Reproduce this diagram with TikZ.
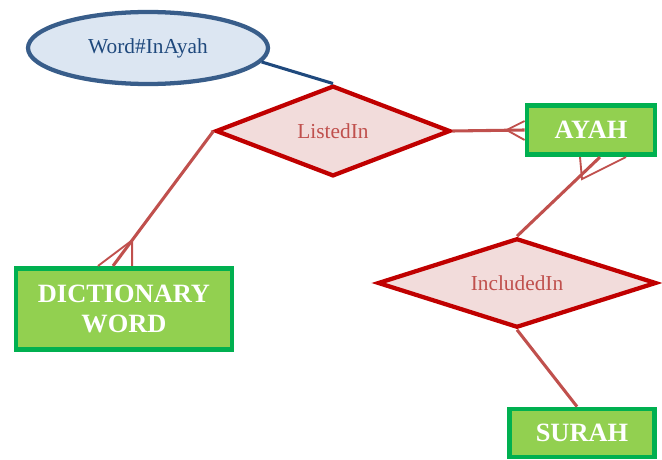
\documentclass[tikz,border=0pt]{standalone}
\usepackage{xcolor}
\usepackage{fontspec}
\setmainfont{Liberation Serif}
\usepackage{tikz}
\usetikzlibrary{positioning,calc,shapes.geometric}
\definecolor{entfill}{HTML}{92D050}
\definecolor{entdraw}{HTML}{00B050}
\definecolor{relfill}{HTML}{F2DCDB}
\definecolor{reldraw}{HTML}{C00000}
\definecolor{reltext}{HTML}{C0504D}
\definecolor{attrfill}{HTML}{DCE6F2}
\definecolor{attrdraw}{HTML}{385D8A}
\definecolor{attrtext}{HTML}{1F497D}

\begin{document}
\begin{tikzpicture}[
  x=0.75pt, y=-0.75pt,
  entity/.style={draw=entdraw, fill=entfill, line width=3.6pt, text=white, align=center, inner sep=0pt,
      font=\fontsize{19.8}{23}\selectfont\bfseries},
  rel/.style={diamond, draw=reldraw, fill=relfill, line width=3.2pt, text=reltext, inner sep=0pt,
      font=\fontsize{16}{19}\selectfont},
  attr/.style={ellipse, draw=attrdraw, fill=attrfill, line width=3.2pt, text=attrtext, inner sep=0pt,
      font=\fontsize{16}{19}\selectfont},
  link/.style={draw=reltext, line width=2.3pt},
  foot/.style={draw=reltext, line width=1.4pt},
]
  \useasboundingbox (0,0) rectangle (662,460);

  % attribute and first relationship
  \node (word)[attr, minimum width=180pt, minimum height=54pt] at (148,48) {Word\#InAyah};
  \node (listed)[rel, aspect=2.6, minimum width=176pt, minimum height=68pt] at (333,131) {ListedIn};
  \draw[draw=attrtext, line width=2.3pt] (word.-7) -- (listed.north);

  % entities
  \node (ayah)[entity, minimum width=96pt, minimum height=37pt] at (591,130) {AYAH};
  \node (dict)[entity, minimum width=162pt, minimum height=61pt] at (124,309) {DICTIONARY\\WORD};
  \node (surah)[entity, minimum width=109pt, minimum height=36pt] at (582,433) {SURAH};

  % second relationship
  \node (included)[rel, aspect=3.1, minimum width=209pt, minimum height=67pt] at (517,283) {IncludedIn};

  % ListedIn -- DICTIONARY WORD (many)
  \coordinate (dict-in) at ($(dict.north)+(-11,0)$);
  \draw[link] (listed.west) -- (dict-in);
  \coordinate (dict-foot) at ($(listed.west)!0.81!(dict-in)$);
  \draw[foot] ($(dict.north)+(-26,0)$) -- (dict-foot) -- (dict-foot |- dict.north);

  % ListedIn -- AYAH (many)
  \draw[link] (listed.east) -- (ayah.west);
  \coordinate (ayah-foot) at ($(ayah.west)+(-18,0)$);
  \draw[foot] ($(ayah.west)+(0,-9)$) -- (ayah-foot) -- ($(ayah.west)+(0,10)$);

  % IncludedIn -- AYAH (many)
  \coordinate (ayah-out) at ($(ayah.south)+(9,0)$);
  \draw[link] (included.north) -- (ayah-out);
  \coordinate (ayah-foot2) at ($(ayah.south)+(-9,22)$);
  \draw[foot] ($(ayah.south)+(-11,0)$) -- (ayah-foot2) -- ($(ayah.south)+(35,0)$);

  % IncludedIn -- SURAH
  \draw[link] (included.south) -- ($(surah.north)+(-5,0)$);
\end{tikzpicture}
\end{document}
